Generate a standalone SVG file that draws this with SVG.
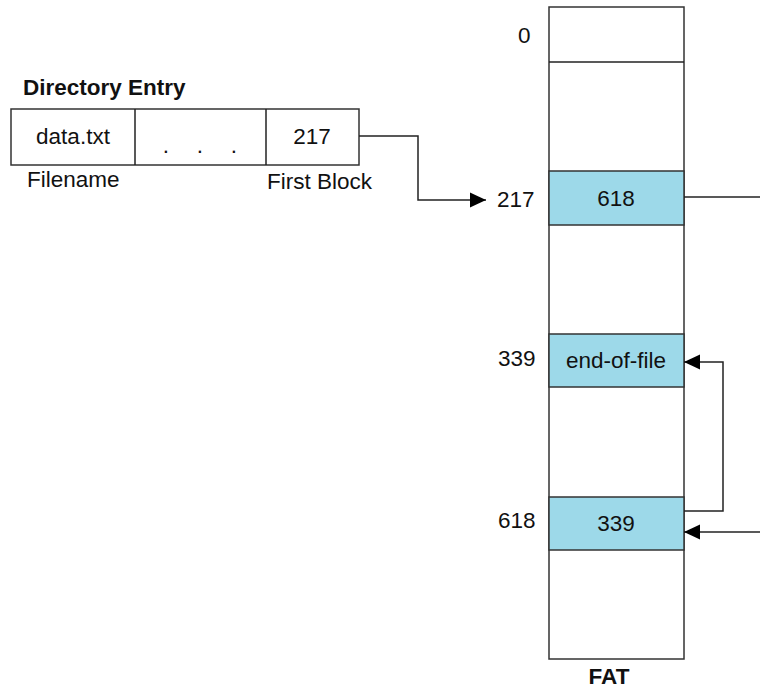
<svg xmlns="http://www.w3.org/2000/svg" width="760" height="690" viewBox="0 0 760 690">
<style>
.t{font-family:"Liberation Sans",Arial,sans-serif;font-size:22.5px;fill:#111}
.b{font-weight:bold}
.m{text-anchor:middle}
.box{fill:#fff;stroke:#333;stroke-width:1.5}
.cell{fill:#9dd9e9;stroke:#333;stroke-width:1.5}
.ln{fill:none;stroke:#222;stroke-width:1.5}
</style>
<defs>
<marker id="arr" markerWidth="16" markerHeight="16" refX="16" refY="8" orient="auto" markerUnits="userSpaceOnUse">
<path d="M0,0.5 L16,8 L0,15.5 Z" fill="#000"/>
</marker>
</defs>
<rect width="760" height="690" fill="#fff"/>

<g id="directory-entry">
<text class="t b" x="23" y="95">Directory Entry</text>
<rect class="box" x="11" y="109" width="348" height="56"/>
<line class="ln" x1="135" y1="109" x2="135" y2="165"/>
<line class="ln" x1="266" y1="109" x2="266" y2="165"/>
<text class="t m" x="73" y="144">data.txt</text>
<text class="t m" x="166 200 234" y="153">...</text>
<text class="t m" x="312" y="144">217</text>
<text class="t" x="27" y="187">Filename</text>
<text class="t" x="267" y="189">First Block</text>
</g>

<g id="fat">
<rect class="box" x="549" y="7" width="135" height="652"/>
<line class="ln" x1="549" y1="62" x2="684" y2="62"/>
<text class="t b m" x="609" y="684">FAT</text>
<text class="t" x="518" y="43">0</text>
</g>

<g id="block-217">
<rect class="cell" x="549" y="171" width="135" height="54"/>
<text class="t m" x="616" y="206">618</text>
<text class="t" x="497" y="207">217</text>
</g>

<g id="block-339">
<rect class="cell" x="549" y="334" width="135" height="53"/>
<text class="t m" x="616" y="368">end-of-file</text>
<text class="t" x="498" y="366">339</text>
</g>

<g id="block-618">
<rect class="cell" x="549" y="497" width="135" height="53"/>
<text class="t m" x="616" y="531">339</text>
<text class="t" x="498" y="528">618</text>
</g>

<g id="connectors">
<path class="ln" d="M359,136 H418 V200 H486" marker-end="url(#arr)"/>
<path class="ln" d="M684,197 H760"/>
<path class="ln" d="M760,532 H684" marker-end="url(#arr)"/>
<path class="ln" d="M684,511 H723 V362 H684" marker-end="url(#arr)"/>
</g>
</svg>
